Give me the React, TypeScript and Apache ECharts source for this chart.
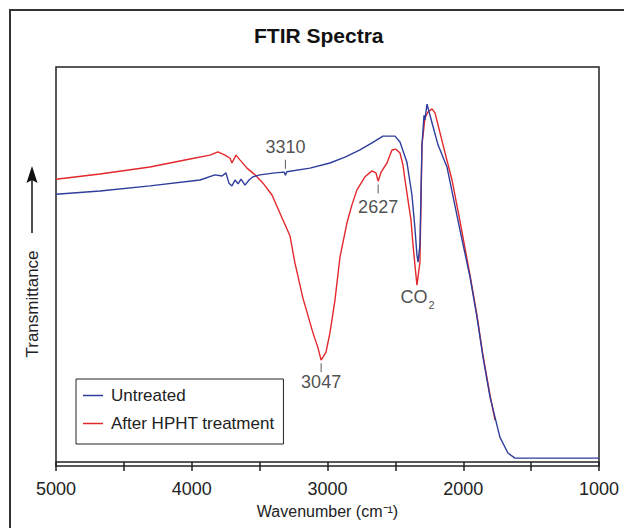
import React, { useEffect, useRef } from "react";
import * as echarts from "echarts";

// Untreated spectrum (wavenumber cm-1, relative transmittance)
const untreatedWn = [
  5000, 4676, 4308, 3939, 3829, 3777, 3748, 3726, 3704, 3681, 3659, 3637, 3608, 3578, 3549,
  3497, 3387, 3320, 3310, 3300, 3129, 2982, 2871, 2761, 2672, 2591, 2503, 2466, 2415, 2378,
  2356, 2341, 2333, 2319, 2304, 2289, 2282, 2267, 2245, 2186, 2120, 2024, 1950, 1899, 1855,
  1803, 1730, 1671, 1619, 1000,
];
const untreatedT = [
  67.8, 68.6, 69.9, 71.4, 72.7, 72.4, 73.2, 70.6, 69.9, 71.4, 70.4, 71.6, 70.1, 71.4, 72.2,
  72.7, 73.2, 73.4, 72.6, 73.5, 74.4, 75.7, 77.2, 79.0, 80.8, 82.5, 82.5, 81.0, 75.9, 67.6,
  59.2, 52.4, 50.6, 54.9, 80.3, 87.8, 86.6, 90.6, 87.8, 80.3, 74.7, 58.7, 46.8, 36.7, 26.6,
  16.5, 6.3, 2.3, 1.0, 1.0,
];

// After HPHT treatment spectrum
const hphtWn = [
  5000, 4676, 4308, 4013, 3866, 3807, 3755, 3718, 3704, 3674, 3645, 3593, 3534, 3475, 3409,
  3350, 3276, 3240, 3181, 3107, 3070, 3047, 3011, 2982, 2945, 2908, 2857, 2820, 2783, 2724,
  2672, 2643, 2627, 2605, 2562, 2525, 2496, 2466, 2444, 2429, 2407, 2385, 2370, 2356, 2341,
  2319, 2304, 2282, 2260, 2230, 2208, 2149, 2083, 2024, 1950, 1899, 1855, 1803, 1766,
];
const hphtT = [
  71.6, 72.9, 74.7, 76.7, 77.7, 78.5, 77.7, 76.9, 75.7, 77.7, 76.5, 74.4, 72.7, 70.6, 67.6,
  63.0, 57.2, 50.4, 41.5, 32.7, 28.9, 25.8, 27.8, 32.7, 41.0, 51.9, 60.5, 65.1, 68.9, 72.2,
  73.7, 73.2, 71.1, 73.4, 75.7, 79.0, 79.2, 78.2, 75.2, 71.4, 66.3, 61.3, 54.9, 49.9, 44.8,
  50.6, 80.3, 87.1, 88.6, 89.4, 88.4, 80.3, 71.4, 61.0, 47.3, 37.2, 27.1, 17.0, 10.6,
];

// Peak annotations
const peakLabels = ["3310", "2627", "3047"];
const peakWn = [3310, 2627, 3047];
const peakTickT = [75.4, 69.1, 23.9];
const peakLabelSide = ["top", "bottom", "bottom"];
const co2Wn = 2337;
const co2T = 41.9;

const xTicks = [5000, 4000, 3000, 2000, 1000];

const FONT = "'Liberation Sans', Arial, sans-serif";
const BLUE = "#2f3d9c";
const RED = "#e2282c";
const INK = "#222";

export default function App() {
  const ref = useRef<HTMLDivElement>(null);

  useEffect(() => {
    if (!ref.current) return;
    const chart = echarts.init(ref.current, undefined, { renderer: "svg" });

    const peakData = peakLabels.map((name, i) => ({
      name,
      value: [peakWn[i], peakTickT[i]],
      label: {
        show: true,
        position: peakLabelSide[i],
        distance: peakLabelSide[i] === "top" ? 4 : i === 2 ? 1 : 4,
        formatter: name,
        fontSize: 18,
        color: INK,
        fontFamily: FONT,
      },
    }));

    chart.setOption({
      animation: false,
      backgroundColor: "#fff",
      title: {
        text: "FTIR Spectra",
        left: 249,
        top: 20,
        textStyle: { fontSize: 21, fontWeight: "bold", color: "#111", fontFamily: FONT },
      },
      grid: {
        left: 56,
        right: 25,
        top: 67,
        bottom: 62,
        show: true,
        borderColor: INK,
        borderWidth: 1.5,
        backgroundColor: "transparent",
      },
      legend: {
        left: 76,
        top: 379,
        orient: "vertical",
        backgroundColor: "#fff",
        borderColor: INK,
        borderWidth: 1,
        padding: [8, 9, 12, 7],
        itemGap: 11,
        itemWidth: 20,
        itemHeight: 1.5,
        icon: "rect",
        textStyle: { fontSize: 17, color: INK, fontFamily: FONT, padding: [0, 0, 0, 3] },
        data: [
          { name: "Untreated", icon: "rect", itemStyle: { color: BLUE } },
          { name: "After HPHT treatment", icon: "rect", itemStyle: { color: RED } },
        ],
      },
      xAxis: {
        type: "value",
        min: 1000,
        max: 5000,
        interval: 500,
        inverse: true,
        name: "Wavenumber (cm⁻¹)",
        nameLocation: "middle",
        nameGap: 37,
        nameTextStyle: { fontSize: 16, color: INK, fontFamily: FONT },
        axisLine: { show: true, lineStyle: { color: INK, width: 1.5 } },
        axisTick: { show: true, inside: false, length: 9, lineStyle: { color: INK, width: 1.5 } },
        axisLabel: {
          margin: 14,
          fontSize: 18,
          color: INK,
          fontFamily: FONT,
          formatter: (v: number) => (xTicks.includes(v) ? String(v) : ""),
        },
        splitLine: { show: false },
      },
      yAxis: {
        type: "value",
        min: -1,
        max: 100,
        show: false,
        splitLine: { show: false },
      },
      graphic: [
        {
          type: "rect",
          silent: true,
          shape: { x: 10, y: 10, width: 700, height: 600 },
          style: { fill: "none", stroke: "#333", lineWidth: 2 },
          z: -10,
        },
        {
          type: "text",
          x: 32,
          y: 304,
          rotation: Math.PI / 2,
          style: {
            text: "Transmittance",
            fontSize: 17,
            fontFamily: FONT,
            fill: INK,
            align: "center",
            verticalAlign: "middle",
          },
        },
        {
          type: "line",
          shape: { x1: 32, y1: 233, x2: 32, y2: 178 },
          style: { stroke: "#111", lineWidth: 1.5 },
        },
        {
          type: "polygon",
          shape: { points: [[32, 166], [37.5, 183], [32, 180], [26.5, 183]] },
          style: { fill: "#111" },
        },
      ],
      series: [
        {
          name: "After HPHT treatment",
          type: "line",
          symbol: "none",
          data: hphtWn.map((w, i) => [w, hphtT[i]]),
          lineStyle: { color: RED, width: 1.4 },
          itemStyle: { color: RED },
          z: 2,
        },
        {
          name: "Untreated",
          type: "line",
          symbol: "none",
          data: untreatedWn.map((w, i) => [w, untreatedT[i]]),
          lineStyle: { color: BLUE, width: 1.4 },
          itemStyle: { color: BLUE },
          z: 3,
        },
        {
          name: "peaks",
          type: "scatter",
          silent: true,
          symbol: "rect",
          symbolSize: [1, 9],
          itemStyle: { color: "#333" },
          data: peakData,
          z: 4,
        },
        {
          name: "co2",
          type: "scatter",
          silent: true,
          symbolSize: 0,
          data: [
            {
              name: "CO₂",
              value: [co2Wn, co2T],
              label: {
                show: true,
                position: "inside",
                formatter: "{a|CO}{b|2}",
                rich: {
                  a: { fontSize: 18, color: INK, fontFamily: FONT },
                  b: { fontSize: 11, color: INK, fontFamily: FONT, padding: [16, 0, 0, 1] },
                },
              },
            },
          ],
          z: 4,
        },
      ],
    });

    return () => chart.dispose();
  }, []);

  return (
    <div
      ref={ref}
      style={{ position: "fixed", left: 0, top: 0, width: 624, height: 528, background: "#fff" }}
    />
  );
}
